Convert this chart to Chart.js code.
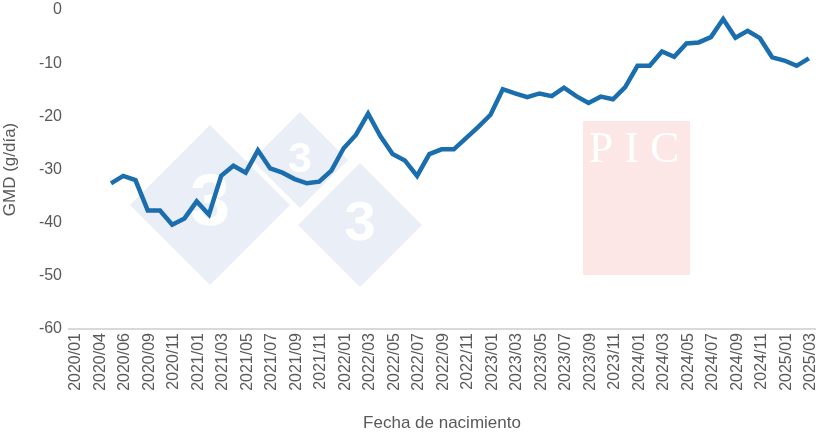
<!DOCTYPE html>
<html><head><meta charset="utf-8">
<script src="https://cdn.jsdelivr.net/npm/chart.js@4/dist/chart.umd.min.js"></script>
<style>html,body{margin:0;padding:0;background:#fff}#w{width:820px;height:438px}</style>
</head><body><div id="w"><canvas id="c"></canvas></div>
<script>
const tickLabels = ["2020/01","2020/04","2020/06","2020/09","2020/11","2021/01","2021/03","2021/05","2021/07","2021/09","2021/11","2022/01","2022/03","2022/05","2022/07","2022/09","2022/11","2023/01","2023/03","2023/05","2023/07","2023/09","2023/11","2024/01","2024/03","2024/05","2024/07","2024/09","2024/11","2025/01","2025/03"];
const gmd = [-32.6,-31.2,-32.0,-37.7,-37.7,-40.4,-39.2,-36.0,-38.5,-31.2,-29.3,-30.6,-26.4,-29.8,-30.6,-31.8,-32.6,-32.3,-30.2,-26.0,-23.5,-19.5,-23.7,-27.1,-28.3,-31.2,-27.1,-26.2,-26.2,-24.1,-22.0,-19.7,-14.9,-15.7,-16.4,-15.7,-16.2,-14.6,-16.2,-17.5,-16.3,-16.8,-14.5,-10.5,-10.5,-7.8,-8.8,-6.3,-6.1,-5.1,-1.7,-5.2,-3.9,-5.3,-8.9,-9.5,-10.5,-9.1];
const firstTick = -2.86, tickStep = 2.0;
const points = gmd.map((v,i)=>({x:i,y:v}));
const fam = "'Liberation Sans', Arial, sans-serif";
const grey = '#595959';

const watermark = {
  id:'wm',
  beforeDatasetsDraw(chart){
    const ctx = chart.ctx; ctx.save();
    function diamond(cx,cy,r){
      ctx.fillStyle='#e9eef7';
      ctx.beginPath();ctx.moveTo(cx,cy-r);ctx.lineTo(cx+r,cy);ctx.lineTo(cx,cy+r);ctx.lineTo(cx-r,cy);ctx.closePath();ctx.fill();
      ctx.fillStyle='#ffffff';ctx.font='bold '+Math.round(r*0.9)+'px "Liberation Sans", Arial';
      ctx.textAlign='center';ctx.textBaseline='middle';ctx.fillText('3',cx,cy);
    }
    diamond(300,160,48);
    diamond(210,205,80);
    diamond(360,225,62);
    ctx.fillStyle='#fde6e6';ctx.fillRect(583,121,107,154);
    ctx.fillStyle='#ffffff';ctx.font='44px "Liberation Serif", serif';ctx.textAlign='center';ctx.textBaseline='middle';
    ctx.fillText('P I C',634,150);
    ctx.restore();
  }
};

new Chart(document.getElementById('c'),{
  type:'line',
  data:{datasets:[{data:points,borderColor:'#1a6eae',borderWidth:4.5,pointRadius:0,tension:0,fill:false}]},
  plugins:[watermark],
  options:{
    responsive:true,maintainAspectRatio:false,animation:false,
    layout:{padding:{top:10,right:5,left:0,bottom:0}},
    plugins:{legend:{display:false},tooltip:{enabled:false}},
    scales:{
      x:{type:'linear',min:-3.43,max:57.5,
        afterBuildTicks(s){s.ticks=tickLabels.map((t,j)=>({value:firstTick+j*tickStep,label:t}));},
        afterFit(s){s.height=109;s.paddingLeft=0;s.paddingRight=0;},
        ticks:{autoSkip:false,minRotation:90,maxRotation:90,color:grey,font:{family:fam,size:16},padding:4,
          callback(v,i){return tickLabels[i];}},
        grid:{display:false,drawTicks:false},
        border:{display:true,color:'#d9d9d9',width:2},
        title:{display:true,text:'Fecha de nacimiento',color:grey,font:{family:fam,size:17},padding:{top:2,bottom:4}}
      },
      y:{min:-60,max:0,
        afterFit(s){s.width=69;s.paddingTop=0;s.paddingBottom=0;},
        ticks:{stepSize:10,color:grey,font:{family:fam,size:16},padding:7},
        grid:{display:false,drawTicks:false},
        border:{display:false},
        title:{display:true,text:'GMD (g/día)',color:grey,font:{family:fam,size:17},padding:{top:0,bottom:4}}
      }
    }
  }
});
</script></body></html>
